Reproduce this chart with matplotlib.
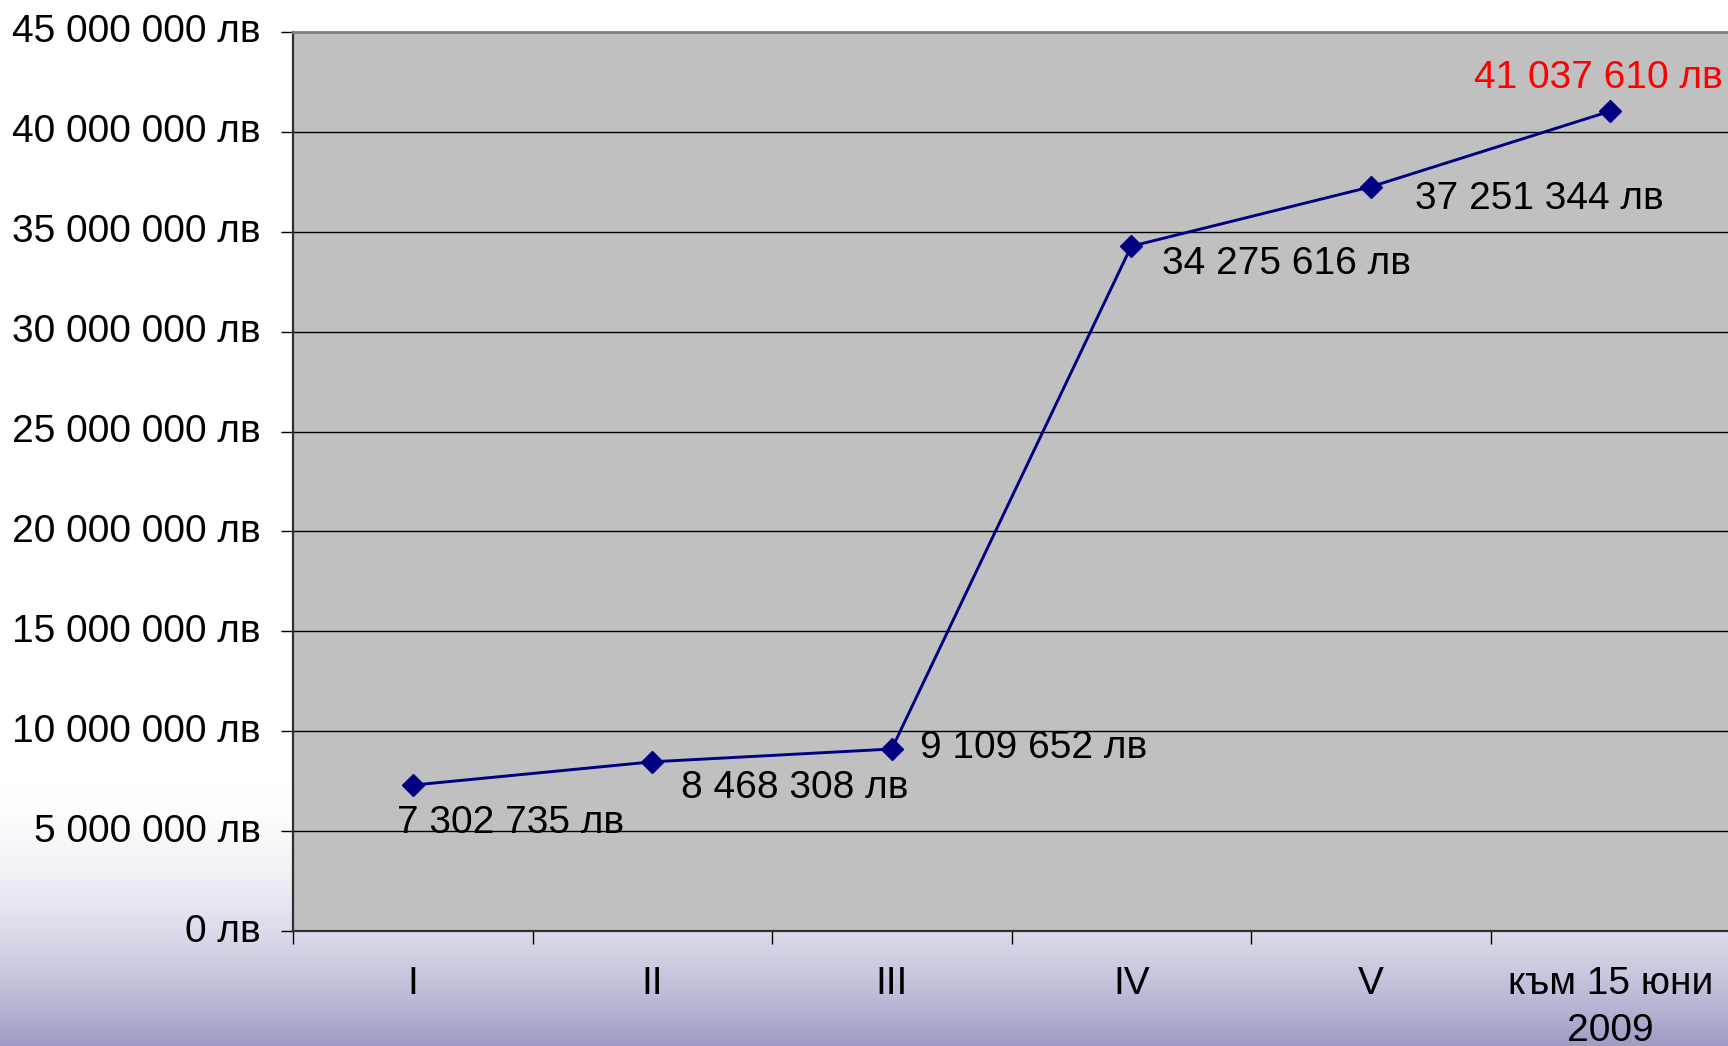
import numpy as np
import matplotlib.pyplot as plt
from matplotlib.ticker import FuncFormatter, MultipleLocator
from matplotlib.transforms import ScaledTranslation

plt.rcParams['font.family'] = ['Liberation Sans', 'DejaVu Sans']

# data
categories = ['I', 'II', 'III', 'IV', 'V', 'към 15 юни\n2009']
values = [7302735, 8468308, 9109652, 34275616, 37251344, 41037610]
value_labels = ['7 302 735 лв', '8 468 308 лв', '9 109 652 лв',
                '34 275 616 лв', '37 251 344 лв', '41 037 610 лв']
# label offsets in pixels (dx to left edge, dy to centre)
label_offsets = [(-16, -38), (29, -26), (28, 1), (31, -18), (44, -12), (-136, 33)]
label_colors = ['black'] * 5 + ['#FF0000']


def money(v, pos=None):
    s = f'{int(v):,}'.replace(',', ' ')
    return f'{s} лв'


fig = plt.figure(figsize=(17.28, 10.46), dpi=100)

# background gradient: white at top, lavender at bottom
bg = fig.add_axes([0, 0, 1, 1], zorder=-10)
h = 1046
y = np.arange(h)
s = np.clip((y - 780) / (h - 780), 0, 1) ** 1.8
top = np.array([1.0, 1.0, 1.0])
bottom = np.array([0.61, 0.61, 0.77])
grad = top[None, :] * (1 - s[:, None]) + bottom[None, :] * s[:, None]
img = np.repeat(grad[:, None, :], 10, axis=1)
bg.imshow(img, aspect='auto', extent=[0, 1, 0, 1], origin='upper')
bg.set_axis_off()

ax = fig.add_axes([293 / 1728, 1 - 931 / 1046, (1730 - 293) / 1728, (931 - 32) / 1046])
ax.set_facecolor('#C0C0C0')

x = np.arange(len(categories))
ax.plot(x, values, color='#000080', lw=2.1, marker='D', markersize=11,
        markerfacecolor='#000080', markeredgecolor='#000080', zorder=3)

for xi, v, lab, (dx, dy), c in zip(x, values, value_labels, label_offsets, label_colors):
    ax.annotate(lab, (xi, v), xytext=(dx, dy), textcoords='offset pixels',
                ha='left', va='center', fontsize=28, color=c, zorder=4)

ax.set_xlim(-0.5, 5.5)
ax.set_ylim(0, 45000000)
ax.yaxis.set_major_locator(MultipleLocator(5000000))
ax.yaxis.set_major_formatter(FuncFormatter(money))
ax.grid(axis='y', color='black', lw=1)
ax.set_axisbelow(True)

ax.set_xticks(np.arange(-0.5, 5.6, 1.0))
ax.set_xticklabels([])
ax.set_xticks(x, minor=True)
ax.set_xticklabels(categories, minor=True, fontsize=28, linespacing=1.4)
ax.tick_params(axis='x', which='major', length=9, width=1, direction='out', color='black')
ax.tick_params(axis='x', which='minor', length=0, pad=25)
ax.tick_params(axis='y', length=9, width=1, direction='out', pad=14, labelsize=28)

# nudge y tick labels up a little
shift = ScaledTranslation(0, 3.5 / 100, fig.dpi_scale_trans)
for lbl in ax.get_yticklabels():
    lbl.set_transform(lbl.get_transform() + shift)

for side in ['left', 'bottom']:
    ax.spines[side].set_color('#303030')
    ax.spines[side].set_linewidth(1.6)
ax.spines['top'].set_color('#808080')
ax.spines['top'].set_linewidth(2)
ax.spines['right'].set_visible(False)

fig.savefig('out.png', dpi=100)
